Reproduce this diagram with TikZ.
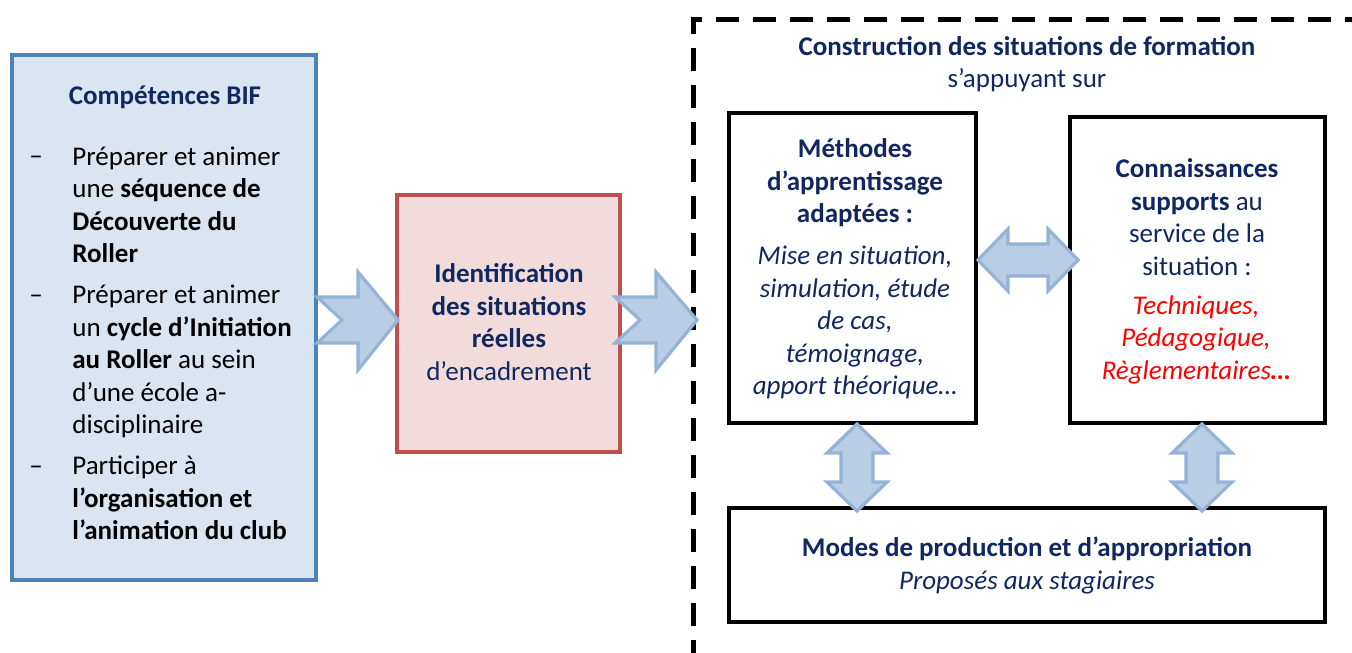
\documentclass[tikz,border=0pt]{standalone}
\usepackage{fontspec}
\setmainfont{Carlito}
\definecolor{navy}{RGB}{16,40,96}
\definecolor{bluefill}{HTML}{DBE5F1}
\definecolor{blueline}{HTML}{4F81BD}
\definecolor{redfill}{HTML}{F2DCDB}
\definecolor{redline}{HTML}{C0504D}
\definecolor{arrowfill}{HTML}{B9CDE5}
\definecolor{arrowline}{HTML}{95B3D7}
\definecolor{redtxt}{HTML}{FF0000}
\newcommand{\fsz}{\fontsize{13.5}{16.25}\selectfont}
\begin{document}
\begin{tikzpicture}[x=0.5pt,y=-0.5pt,
  txt/.style={font=\fsz, text=navy, inner sep=0pt, align=center},
  ltxt/.style={font=\fsz, text=black, inner sep=0pt, align=left, anchor=west},
  dashtxt/.style={font=\fsz, text=black, inner sep=0pt, anchor=base},
  bluebox/.style={draw=blueline, fill=bluefill, line width=2pt},
  redbox/.style={draw=redline, fill=redfill, line width=2pt},
  blackbox/.style={draw=black, line width=2.3pt, fill=white},
  blockarrow/.style={fill=arrowfill, draw=arrowline, line width=1.6pt, line join=miter},
  dashframe/.style={draw=black, line width=2.5pt, dash pattern=on 11.5pt off 7pt}
]
\useasboundingbox (0,0) rectangle (1352,652);
\clip (0,0) rectangle (1352,652);

% dashed frame (extends beyond picture)
\draw[dashframe] (693,700) -- (693,20) -- (1400,20);

% boxes
\node[bluebox, minimum width=152pt, minimum height=262.5pt] (bif) at (164,317.5) {};
\node[redbox, minimum width=111.5pt, minimum height=128.5pt] (ident) at (508.5,323.5) {};
\node[blackbox, minimum width=123.5pt, minimum height=155pt] (meth) at (852.5,268) {};
\node[blackbox, minimum width=127.5pt, minimum height=153pt] (conn) at (1197.5,270) {};
\node[blackbox, minimum width=298pt, minimum height=57pt] (modes) at (1027,565) {};

% left box texts
\node[txt, font=\fsz\bfseries] (biftitle) at (165,97) {Compétences BIF};
\node[ltxt] (it1) at (72,205) {Préparer et animer\\une \textbf{séquence de}\\\textbf{Découverte du}\\\textbf{Roller}};
\node[ltxt] (it2) at (72,361.5) {Préparer et animer\\un \textbf{cycle d’Initiation}\\\textbf{au Roller} au sein\\d’une école a-\\disciplinaire};
\node[ltxt] (it3) at (72,498) {Participer à\\\textbf{l’organisation et}\\\textbf{l’animation du club}};
\node[dashtxt] (d1) at (36,165) {–};
\node[dashtxt] (d2) at (36,303) {–};
\node[dashtxt] (d3) at (36,474) {–};

% identification text
\node[txt] (identtxt) at (509,322) {\textbf{Identification}\\\textbf{des situations}\\\textbf{réelles}\\d’encadrement};

% construction title
\node[txt] (constr) at (1027,64) {\textbf{Construction des situations de formation}\\s’appuyant sur};

% methodes text
\node[txt] (methtitle) at (855,183) {\textbf{Méthodes}\\\textbf{d’apprentissage}\\\textbf{adaptées :}};
\node[txt, font=\fsz\itshape] (methlist) at (855,322.5) {Mise en situation,\\simulation, étude\\de cas,\\témoignage,\\apport théorique…};

% connaissances text
\node[txt] (conntitle) at (1197,217) {\textbf{Connaissances}\\\textbf{supports} au\\service de la\\situation :};
\node[txt, text=redtxt, font=\fsz\itshape] (connlist) at (1196,339.5) {Techniques,\\Pédagogique,\\Règlementaires\textbf{…}};

% modes text
\node[txt] (modestxt) at (1027,565.5) {\textbf{Modes de production et d’appropriation}\\\textit{Proposés aux stagiaires}};

% notched arrows
\draw[blockarrow] (317,297) -- (358,297) -- (358,272) -- (398,320) -- (358,370) -- (358,343) -- (317,343) -- (342,320) -- cycle;
\draw[blockarrow] (615,297) -- (656,297) -- (656,272) -- (697,320) -- (656,370) -- (656,343) -- (615,343) -- (640,320) -- cycle;

% horizontal double arrow
\draw[blockarrow] (978,260) -- (1008,229) -- (1008,244) -- (1048,244) -- (1048,229) -- (1078,260) -- (1048,291) -- (1048,276) -- (1008,276) -- (1008,291) -- cycle;

% vertical double arrows
\foreach \cx/\nm in {857/va, 1202/vb}{
  \draw[blockarrow] (\cx,424) -- (\cx+30,453) -- (\cx+16,453) -- (\cx+16,482) -- (\cx+30,482) -- (\cx,511) -- (\cx-30,482) -- (\cx-16,482) -- (\cx-16,453) -- (\cx-30,453) -- cycle;
}
\end{tikzpicture}
\end{document}
